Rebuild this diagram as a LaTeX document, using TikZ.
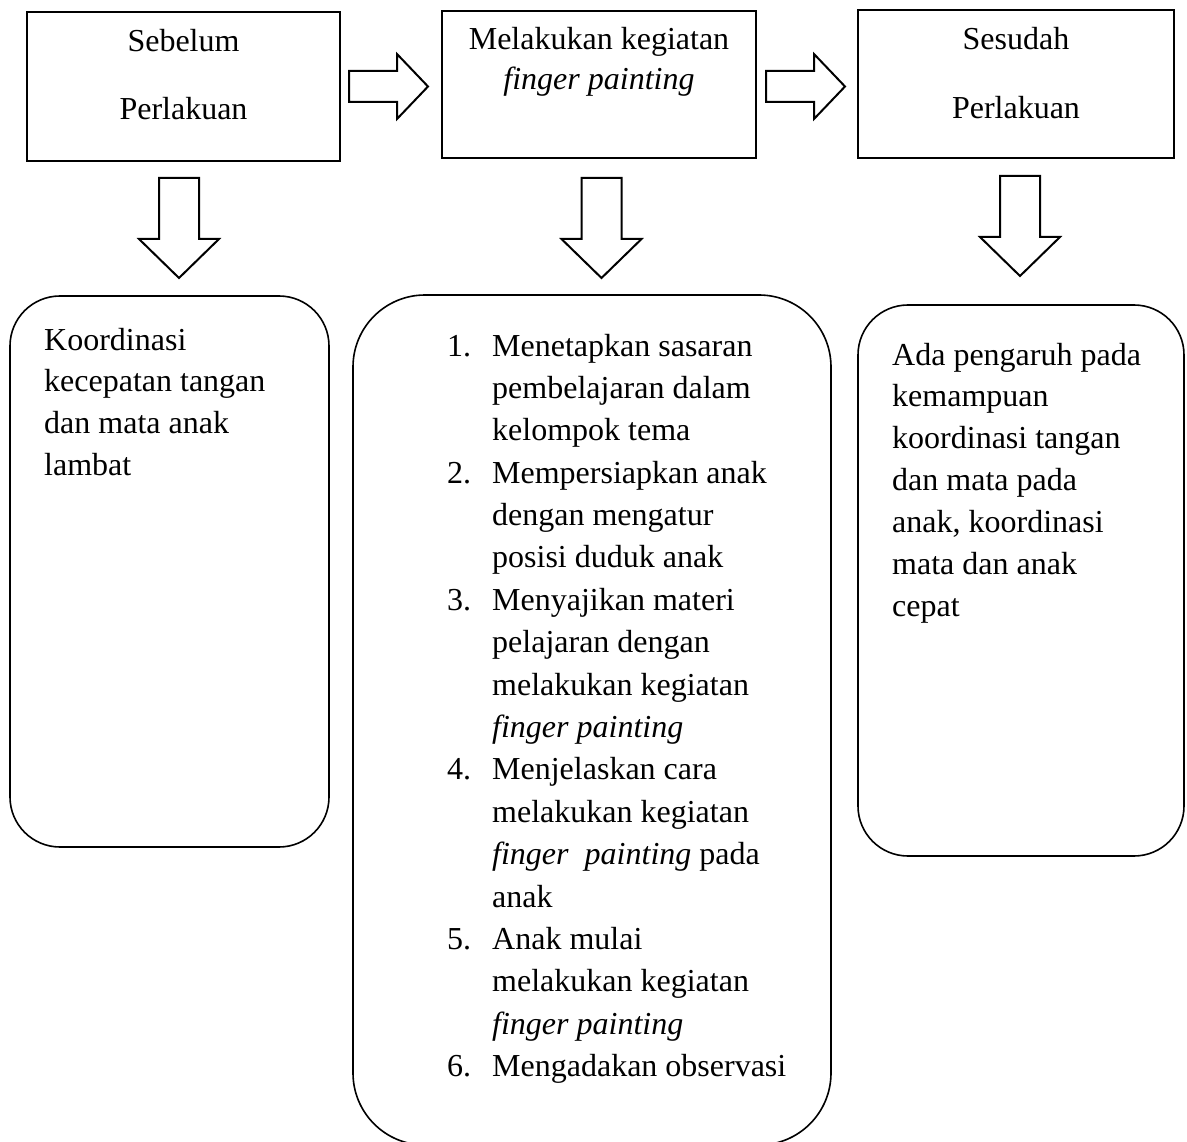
\documentclass[tikz,border=0pt]{standalone}
\usepackage{fontspec}
\setmainfont{Liberation Serif}
\newcommand\lnum[1]{\makebox[45pt][l]{#1}}
\newcommand\lind{\hspace*{45pt}}
\begin{document}
\begin{tikzpicture}[x=1pt,y=-1pt,line join=miter,
  box/.style={draw,line width=1.4pt,rectangle,inner sep=0pt},
  rbox/.style={draw,line width=1.6pt,rectangle,inner sep=0pt,rounded corners=50pt},
  txt/.style={inner sep=0pt,anchor=base,font=\fontsize{32}{42}\selectfont},
  para/.style={inner sep=0pt,anchor=base west},
  blk/.style={draw,line width=2pt,fill=white},
  rblk/.pic={\draw[blk] (0,-15.5) -- (48,-15.5) -- (48,-32.5) -- (79,0) -- (48,32.5) -- (48,15.5) -- (0,15.5) -- cycle;},
  dblk/.pic={\draw[blk] (-20,0) -- (20,0) -- (20,61) -- (40,61) -- (0,100) -- (-40,61) -- (-20,61) -- cycle;}]
\useasboundingbox (0,0) rectangle (1187,1142);
\clip (0,0) rectangle (1187,1142);
% top boxes
\node[box,minimum width=313pt,minimum height=149pt] (b1) at (183.5,86.5) {};
\node[box,minimum width=314pt,minimum height=147pt] (b2) at (599,84.5) {};
\node[box,minimum width=316pt,minimum height=148pt] (b3) at (1016,84) {};
\node[txt] (t1a) at (183.5,52) {Sebelum};
\node[txt] (t1b) at (183.5,120) {Perlakuan};
\node[txt] (t2a) at (599,50) {Melakukan kegiatan};
\node[txt] (t2b) at (599,90) {\itshape finger painting};
\node[txt] (t3a) at (1016,50) {Sesudah};
\node[txt] (t3b) at (1016,119) {Perlakuan};
% bottom rounded boxes
\node[rbox,minimum width=319pt,minimum height=551pt] (r1) at (169.5,571.5) {};
\node[rbox,rounded corners=72pt,minimum width=478pt,minimum height=850pt] (r2) at (592,720) {};
\node[rbox,minimum width=326pt,minimum height=551pt] (r3) at (1021,580.5) {};
% block arrows
\pic (ar1) at (349,86.5) {rblk};
\pic (ar2) at (766,86.5) {rblk};
\pic (ad1) at (179,178) {dblk};
\pic (ad2) at (601.5,178) {dblk};
\pic (ad3) at (1020,176) {dblk};
% texts
\node[para] (p1) at (44,350) {\fontsize{32}{42}\selectfont\parbox[t]{280pt}{\raggedright
Koordinasi\\
kecepatan tangan\\
dan mata anak\\
lambat}};
\node[para] (p3) at (892,365) {\fontsize{32}{42}\selectfont\parbox[t]{290pt}{\raggedright
Ada pengaruh pada\\
kemampuan\\
koordinasi tangan\\
dan mata pada\\
anak, koordinasi\\
mata dan anak\\
cepat}};
\node[para] (p2) at (447,356) {\fontsize{32}{42.4}\selectfont\parbox[t]{420pt}{\raggedright
\lnum{1.}Menetapkan sasaran\\
\lind pembelajaran dalam\\
\lind kelompok tema\\
\lnum{2.}Mempersiapkan anak\\
\lind dengan mengatur\\
\lind posisi duduk anak\\
\lnum{3.}Menyajikan materi\\
\lind pelajaran dengan\\
\lind melakukan kegiatan\\
\lind \textit{finger painting}\\
\lnum{4.}Menjelaskan cara\\
\lind melakukan kegiatan\\
\lind \textit{finger}\hspace{16pt}\textit{painting} pada\\
\lind anak\\
\lnum{5.}Anak mulai\\
\lind melakukan kegiatan\\
\lind \textit{finger painting}\\
\lnum{6.}Mengadakan observasi}};
\end{tikzpicture}
\end{document}
